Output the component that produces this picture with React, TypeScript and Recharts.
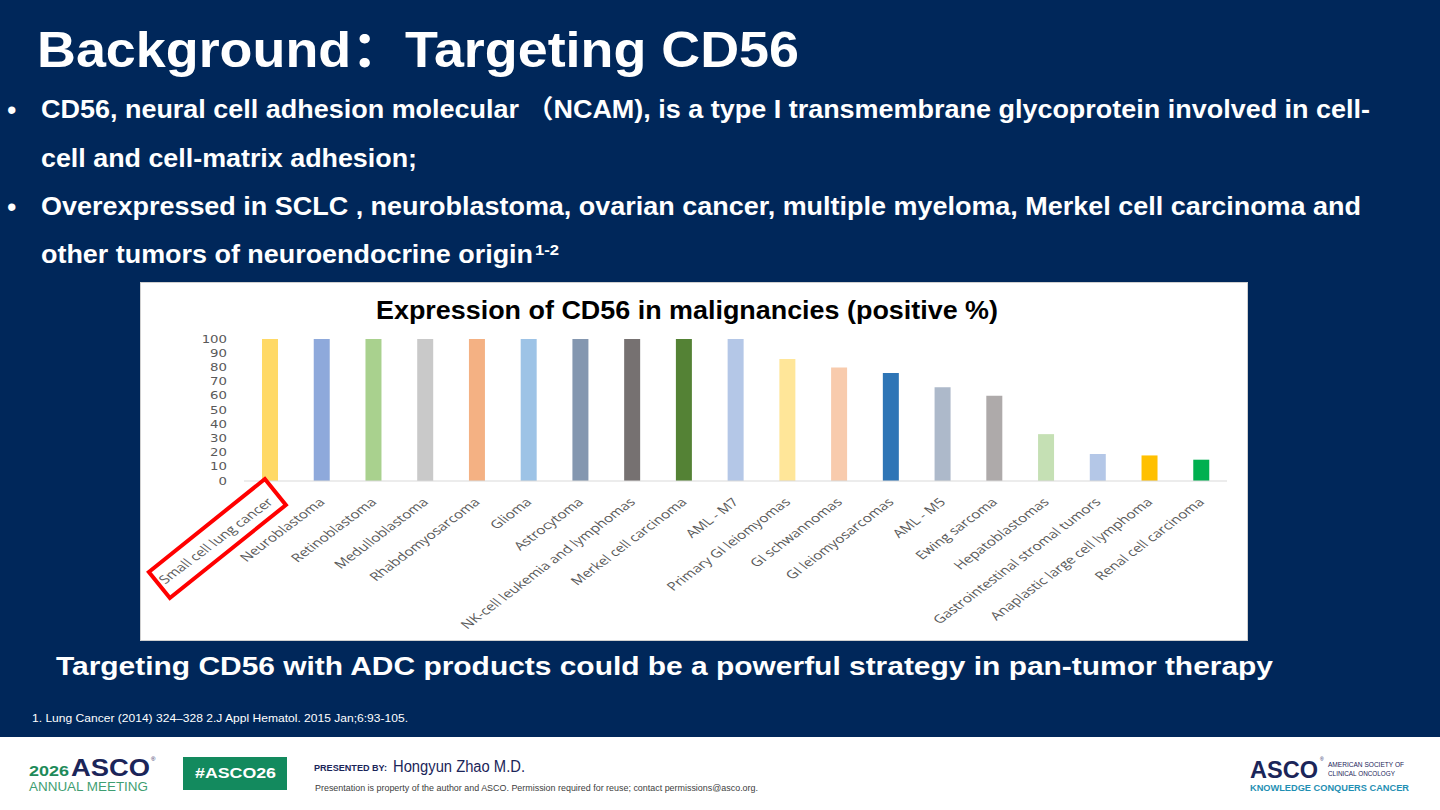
import React from 'react';
import { BarChart, Bar, Cell, XAxis, YAxis } from 'recharts';

// CD56 positivity by tumour type (%)
const tumorTypes = [
    'Small cell lung cancer',
    'Neuroblastoma',
    'Retinoblastoma',
    'Medulloblastoma',
    'Rhabdomyosarcoma',
    'Glioma',
    'Astrocytoma',
    'NK-cell leukemia and lymphomas',
    'Merkel cell carcinoma',
    'AML - M7',
    'Primary GI leiomyomas',
    'GI schwannomas',
    'GI leiomyosarcomas',
    'AML - M5',
    'Ewing sarcoma',
    'Hepatoblastomas',
    'Gastrointestinal stromal tumors',
    'Anaplastic large cell lymphoma',
    'Renal cell carcinoma',
];

const positiveRates = [100, 100, 100, 100, 100, 100, 100, 100, 100, 100, 86, 80, 76, 66, 60, 33, 19, 18, 15];

const barColors = [
    '#FFD966', '#8EA9DB', '#A9D18E', '#C9C9C9', '#F4B183', '#9DC3E6', '#8497B0',
    '#767171', '#548235', '#B4C7E7', '#FFE699', '#F8CBAD', '#2E75B6', '#ADB9CA',
    '#AEAAAA', '#C5E0B4', '#B4C7E7', '#FFC000', '#00B050',
];

const yTicks = [0, 10, 20, 30, 40, 50, 60, 70, 80, 90, 100];

const chartData = tumorTypes.map((name, i) => ({ name, value: positiveRates[i] }));

const NAVY = '#00275A';
const INK = '#1B2559';
const AXIS_TEXT = '#595959';
// the pasted Excel chart is stretched sideways, so ticks get the same squeeze
const STRETCH = 1.33;
const SANS = '"Liberation Sans", Arial, "Noto Sans CJK SC", sans-serif';

// red call-out frame around the first category label, relative to the label anchor
const CALLOUT = '-8,-23 13,3 -103,96 -124,70';

function YTick({ x, y, payload }: any) {
    return (
        <g transform={`translate(${x},${y}) scale(${STRETCH},1)`}>
            <text x={0} y={0} dy="0.36em" textAnchor="end" fill={AXIS_TEXT} fontSize={10} fontFamily="DejaVu Sans">
                {payload.value}
            </text>
        </g>
    );
}

function XTick({ x, y, payload }: any) {
    const highlight = payload.value === tumorTypes[0];
    return (
        <g transform={`translate(${x + 3},${y + 21})`}>
            {highlight && <polygon points={CALLOUT} fill="none" stroke="#FF0000" strokeWidth={4} />}
            <g transform={`scale(${STRETCH},1) rotate(-45)`}>
                <text x={0} y={0} dy="0.1em" textAnchor="end" fill={AXIS_TEXT} fontSize={11.6} fontFamily='"Open Sans", sans-serif'>
                    {payload.value}
                </text>
            </g>
        </g>
    );
}

function SlideText() {
    return (
        <svg width={1440} height={810} style={{ position: 'absolute', left: 0, top: 0 }}>
            <rect x={0} y={0} width={1440} height={737} fill={NAVY} />
            <rect x={0} y={737} width={1440} height={73} fill="#FFFFFF" />

            <g fontFamily={SANS} fontWeight="bold" fill="#FFFFFF">
                <text x={37} y={67} fontSize={50} textLength={762} lengthAdjust="spacingAndGlyphs">
                    Background：Targeting CD56
                </text>

                <text x={7} y={119} fontSize={27} fontWeight="normal">•</text>
                <text x={41} y={118} fontSize={25.5} textLength={1329} lengthAdjust="spacingAndGlyphs">
                    CD56, neural cell adhesion molecular （NCAM), is a type I transmembrane glycoprotein involved in cell-
                </text>
                <text x={41} y={167} fontSize={25.5} textLength={376} lengthAdjust="spacingAndGlyphs">
                    cell and cell-matrix adhesion;
                </text>

                <text x={7} y={216} fontSize={27} fontWeight="normal">•</text>
                <text x={41} y={215} fontSize={25.5} textLength={1320} lengthAdjust="spacingAndGlyphs">
                    Overexpressed in SCLC , neuroblastoma, ovarian cancer, multiple myeloma, Merkel cell carcinoma and
                </text>
                <text x={41} y={263} fontSize={25.5} textLength={492} lengthAdjust="spacingAndGlyphs">
                    other tumors of neuroendocrine origin
                </text>
                <text x={535} y={255} fontSize={15} textLength={24} lengthAdjust="spacingAndGlyphs">
                    1-2
                </text>

                <text x={56} y={675} fontSize={25.5} textLength={1217} lengthAdjust="spacingAndGlyphs">
                    Targeting CD56 with ADC products could be a powerful strategy in pan-tumor therapy
                </text>
            </g>

            <text x={32} y={722} fontFamily={SANS} fontSize={11} fill="#FFFFFF" textLength={376} lengthAdjust="spacingAndGlyphs">
                1. Lung Cancer (2014) 324–328 2.J Appl Hematol. 2015 Jan;6:93-105.
            </text>

            {/* footer, left */}
            <g fontFamily={SANS}>
                <text x={29} y={776} fontSize={15} fontWeight="bold" fill="#1E8A5A" textLength={40} lengthAdjust="spacingAndGlyphs">2026</text>
                <text x={71} y={776} fontSize={24} fontWeight="bold" fill={INK} textLength={79} lengthAdjust="spacingAndGlyphs">ASCO</text>
                <text x={151} y={761} fontSize={6} fill={INK}>®</text>
                <text x={29} y={791} fontSize={12.5} fill="#3F9E72" textLength={119} lengthAdjust="spacingAndGlyphs">ANNUAL MEETING</text>

                <rect x={183} y={757} width={104} height={33} fill="#138A5E" />
                <text x={195} y={778} fontSize={14} fontWeight="bold" fill="#FFFFFF" textLength={81} lengthAdjust="spacingAndGlyphs">#ASCO26</text>

                <text x={314} y={771} fontSize={9.5} fontWeight="bold" fill={INK} textLength={73} lengthAdjust="spacingAndGlyphs">PRESENTED BY:</text>
                <text x={393} y={772} fontSize={16} fill={INK} textLength={132} lengthAdjust="spacingAndGlyphs">Hongyun Zhao M.D.</text>
                <text x={315} y={791} fontSize={9} fill="#404040" textLength={443} lengthAdjust="spacingAndGlyphs">
                    Presentation is property of the author and ASCO. Permission required for reuse; contact permissions@asco.org.
                </text>

                {/* footer, right */}
                <text x={1250} y={777.5} fontSize={24} fontWeight="bold" fill={INK} textLength={68} lengthAdjust="spacingAndGlyphs">ASCO</text>
                <text x={1320} y={761} fontSize={5} fill={INK}>®</text>
                <text x={1328} y={767} fontSize={7} fill={INK} textLength={76} lengthAdjust="spacingAndGlyphs">AMERICAN SOCIETY OF</text>
                <text x={1328} y={775.5} fontSize={7} fill={INK} textLength={67} lengthAdjust="spacingAndGlyphs">CLINICAL ONCOLOGY</text>
                <text x={1250} y={791} fontSize={9.5} fontWeight="bold" fill="#1F8FB3" textLength={159} lengthAdjust="spacingAndGlyphs">
                    KNOWLEDGE CONQUERS CANCER
                </text>
            </g>
        </svg>
    );
}

export default function App() {
    return (
        <div style={{ position: 'absolute', left: 0, top: 0, width: 1440, height: 810, overflow: 'hidden', background: NAVY }}>
            <SlideText />

            <div
                style={{
                    position: 'absolute',
                    left: 140,
                    top: 282,
                    width: 1108,
                    height: 359,
                    background: '#FFFFFF',
                    outline: '1px solid #D0D0D0',
                    outlineOffset: -1,
                }}
            >
                <BarChart width={1108} height={359} data={chartData} margin={{ top: 57, right: 21, bottom: 0, left: 64 }}>
                    <XAxis
                        dataKey="name"
                        interval={0}
                        height={160}
                        tickLine={false}
                        tickSize={0}
                        tickMargin={0}
                        axisLine={{ stroke: '#D9D9D9', strokeWidth: 1 }}
                        tick={<XTick />}
                    />
                    <YAxis
                        width={40}
                        domain={[0, 100]}
                        ticks={yTicks}
                        interval={0}
                        axisLine={false}
                        tickLine={false}
                        tickSize={0}
                        tickMargin={17}
                        tick={<YTick />}
                    />
                    <Bar dataKey="value" barSize={16} isAnimationActive={false}>
                        {chartData.map((d, i) => (
                            <Cell key={d.name} fill={barColors[i]} />
                        ))}
                    </Bar>
                </BarChart>

                <svg width={1108} height={60} style={{ position: 'absolute', left: 0, top: 0 }}>
                    <text
                        x={236}
                        y={36.5}
                        fontFamily={SANS}
                        fontWeight="bold"
                        fontSize={25}
                        fill="#000000"
                        textLength={622}
                        lengthAdjust="spacingAndGlyphs"
                    >
                        Expression of CD56 in malignancies (positive %)
                    </text>
                </svg>
            </div>
        </div>
    );
}
